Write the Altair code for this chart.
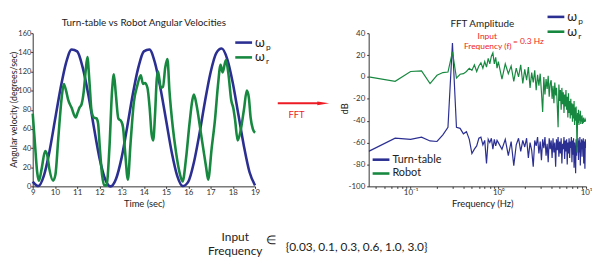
import altair as alt
import pandas as pd

# ---------------- data ----------------
TIME_P = [9.0, 9.25, 9.5, 9.75, 10.0, 10.25, 10.5, 10.75, 11.0, 11.25, 11.5, 11.75,
          12.0, 12.25, 12.5, 12.75, 13.0, 13.25, 13.5, 13.75, 14.0, 14.25, 14.5, 14.75,
          15.0, 15.25, 15.5, 15.75, 16.0, 16.25, 16.5, 16.75, 17.0, 17.25, 17.5, 17.75,
          18.0, 18.25, 18.5, 18.75, 19.0]
OMEGA_P = [5, 0.3, 11, 36, 69, 102, 129, 143, 141, 124, 96, 62,
           30, 8, 0, 8, 30, 62, 96, 124, 141, 143, 129, 102,
           69, 36, 11, 0.3, 5, 25, 55, 89, 119, 139, 144, 133,
           108, 75, 42, 15, 1]

TIME_R = [9.0, 9.1, 9.2, 9.28, 9.4, 9.56, 9.65, 9.75, 9.92, 10.02, 10.15, 10.3, 10.4,
          10.5, 10.6, 10.75, 10.93, 11.02, 11.1, 11.2, 11.3, 11.38, 11.46, 11.55, 11.65,
          11.75, 11.87, 11.94, 12.02, 12.12, 12.22, 12.32, 12.45, 12.57, 12.65, 12.74,
          12.85, 12.98, 13.06, 13.16, 13.28, 13.4, 13.55, 13.7, 13.86, 13.96, 14.05, 14.16,
          14.26, 14.35, 14.42, 14.5, 14.58, 14.64, 14.76, 14.86, 14.96, 15.06, 15.15, 15.3,
          15.45, 15.6, 15.74, 15.9, 16.05, 16.18, 16.25, 16.36, 16.55, 16.7, 16.8, 16.89,
          17.05, 17.2, 17.33, 17.45, 17.54, 17.69, 17.8, 17.93, 18.02, 18.1, 18.22, 18.35,
          18.5, 18.63, 18.72, 18.8, 18.9, 19.0]
OMEGA_R = [76, 45, 15, 6, 18, 37, 33, 18, 6, 12, 50, 92, 107,
           100, 90, 82, 72, 77, 82, 86, 100, 120, 135, 110, 78,
           72, 71, 66, 40, 12, 1, 1, 40, 100, 117, 96,
           71, 68, 62, 35, 7, 45, 88, 105, 116, 107, 108, 103,
           82, 54, 48, 74, 112, 120, 103, 104, 124, 133, 100, 62,
           35, 15, 5, 30, 65, 90, 96, 86, 58, 35, 20, 7,
           40, 70, 105, 127, 119, 132, 118, 90, 82, 70, 48, 58,
           80, 100, 93, 72, 60, 56]

FREQ_LOW = [0.0333, 0.0667, 0.1, 0.1333, 0.1667, 0.2, 0.2333, 0.2667, 0.3, 0.3333,
            0.3667, 0.4, 0.4333, 0.4667, 0.5, 0.5333, 0.5667, 0.6, 0.6333, 0.6667,
            0.7, 0.7333, 0.7667, 0.8, 0.8333, 0.8667, 0.9, 0.9333, 0.9667]
FREQ_HIGH = [round(1.0 + 0.1 * i, 1) for i in range(91)]  # 1.0 ... 10.0 Hz grid

DB_TURNTABLE_LOW = [-68, -56, -57, -55, -58.5, -59, -53, -46, 31, -46,
                    -47, -52, -50, -57, -70, -66, -63, -56, -55, -62,
                    -58, -79, -57, -60, -56, -66, -57, -63, -58]
DB_TURNTABLE_HIGH = [-60, -66, -57, -72, -59, -81, -62, -56, -68, -58,
                     -64, -56, -74, -60, -67, -82, -58, -63, -55, -70,
                     -59, -76, -57, -65, -55, -72, -61, -78, -56, -66,
                     -58, -74, -56, -69, -60, -82, -57, -67, -55, -73,
                     -59, -70, -56, -79, -61, -66, -55, -75, -58, -68,
                     -57, -80, -60, -70, -56, -74, -59, -65, -55, -78,
                     -58, -71, -56, -83, -60, -67, -88, -57, -72, -59,
                     -64, -56, -76, -58, -69, -55, -81, -60, -66, -57,
                     -73, -58, -63, -56, -79, -59, -68, -84, -57, -65, -60]
DB_ROBOT_LOW = [0, -4, 5, 5.5, -6, 1.5, 4, 4.5, 23, -1,
                2.5, 3, 5, 8, 6, 11, 5, 10, 13, 8,
                14, 9, 17, 12, 19, 22, 12, 18, 8]
DB_ROBOT_HIGH = [14, -2, 12, 3, 10, -4, 8, 0, 11, -6,
                 7, -3, 9, -10, 4, -5, 6, -12, 2, -8,
                 3, -14, -32, 0, -16, -2, -11, 1, -18, -6,
                 -3, -20, -8, -24, -5, -17, -10, -27, -46, -7,
                 -22, -12, -30, -10, -25, -14, -33, -16, -27, -12,
                 -30, -18, -37, -15, -33, -22, -38, -20, -35, -24,
                 -41, -25, -38, -22, -44, -28, -40, -27, -45, -69,
                 -33, -42, -30, -44, -34, -40, -31, -43, -36, -41,
                 -35, -43, -38, -42, -37, -41, -39, -41, -39, -40, -40]

INPUT_FREQS = [0.03, 0.1, 0.3, 0.6, 1.0, 3.0]
LEFT_XTICKS = [9, 10, 11, 12, 13, 14, 15, 16, 17, 18, 19]
LEFT_YTICKS = [0, 20, 40, 60, 80, 100, 120, 140, 160]
RIGHT_YTICKS = [-100, -80, -60, -40, -20, 0, 20, 40]
FREQ_TICKS = [0.04, 0.05, 0.06, 0.07, 0.08, 0.09, 0.1, 0.2, 0.3, 0.4, 0.5, 0.6, 0.7,
              0.8, 0.9, 1, 2, 3, 4, 5, 6, 7, 8, 9, 10]

# ---------------- style ----------------
BLUE = "#2b2f92"
GREEN = "#17883f"
RED = "#ed1c24"
INK = "#222222"
FONT = "Lato"
W1, H1 = 225, 155
W2, H2 = 220, 155


def label(text, x, y, size, color=INK, align="left", baseline="middle"):
    return alt.Chart(pd.DataFrame({"label": [text]})).mark_text(
        align=align, baseline=baseline, fontSize=size, font=FONT, color=color
    ).encode(x=alt.value(x), y=alt.value(y), text="label:N")


def hline(x1, x2, y, color, width):
    return alt.Chart(pd.DataFrame({"k": [0]})).mark_rule(
        color=color, strokeWidth=width
    ).encode(x=alt.value(x1), x2=alt.value(x2), y=alt.value(y))


def omega_entry(x, y, sub, color, width):
    return [hline(x, x + 17, y, color, width),
            label("ω", x + 20, y, 13),
            label(sub, x + 31, y + 4, 8.5)]


# tickCount high so that Vega keeps every explicit tick value
AX = dict(labelOverlap=False, labelFlush=False, labelBound=False, tickCount=100)

# ---------------- left panel ----------------
left_p = pd.DataFrame({"t": TIME_P, "v": OMEGA_P})
left_r = pd.DataFrame({"t": TIME_R, "v": OMEGA_R})

xL = alt.X("t:Q", scale=alt.Scale(domain=[9, 19], nice=False, zero=False),
           axis=alt.Axis(values=LEFT_XTICKS, format="d", title="Time (sec)", titleX=112.5,
                         titleY=17.5, titleBaseline="middle", labelPadding=0, **AX))
yL = alt.Y("v:Q", scale=alt.Scale(domain=[0, 160], nice=False),
           axis=alt.Axis(values=LEFT_YTICKS, format="d", title="Angular velocity (degrees/sec)",
                         titleX=-19.5, titleY=77, titleBaseline="middle", titleFontSize=9,
                         labelPadding=0, labelFontSize=7.5, **AX))

line_p = alt.Chart(left_p).mark_line(color=BLUE, strokeWidth=2.6, interpolate="monotone").encode(x=xL, y=yL)
line_r = alt.Chart(left_r).mark_line(color=GREEN, strokeWidth=2.6, interpolate="monotone").encode(x="t:Q", y="v:Q")

arrow_head = alt.Chart(pd.DataFrame({"k": [0]})).mark_point(
    shape="M-1,-0.3L1,0L-1,0.3Z", filled=True, color=RED, opacity=1, size=144
).encode(x=alt.value(294), y=alt.value(71))

set_text = "{" + ", ".join(str(v) for v in INPUT_FREQS) + "}"

left_layers = [
    hline(-24, -23.9, -23, "white", 0.01),  # fixes the figure's top-left corner
    line_p, line_r,
    label("Turn-table vs Robot Angular Velocities", 112.5, -10, 10, align="center"),
    *omega_entry(205, 9.5, "p", BLUE, 2.6),
    *omega_entry(205, 24.5, "r", GREEN, 2.6),
    hline(248, 290, 71, RED, 2),
    arrow_head,
    label("FFT", 267, 83, 9.5, RED, align="center"),
    label("Input", 205, 206, 12, align="center"),
    label("Frequency", 205, 220, 12, align="center"),
    label("∈", 241, 209, 12, align="center"),
    label(set_text, 256, 216, 12),
]
left = alt.layer(*left_layers).properties(width=W1, height=H1)

# ---------------- right panel ----------------
fft_p = pd.DataFrame({"f": FREQ_LOW + FREQ_HIGH, "db": DB_TURNTABLE_LOW + DB_TURNTABLE_HIGH})
fft_r = pd.DataFrame({"f": FREQ_LOW + FREQ_HIGH, "db": DB_ROBOT_LOW + DB_ROBOT_HIGH})

label_expr = ("datum.value == 0.1 ? '10⁻¹' : datum.value == 1 ? '10⁰' : "
              "datum.value == 10 ? '10¹' : ''")
xR = alt.X("f:Q", scale=alt.Scale(type="log", domain=[0.0333, 10], nice=False),
           axis=alt.Axis(values=FREQ_TICKS, labelExpr=label_expr, title="Frequency (Hz)",
                         titleX=115, titleY=17.5, titleBaseline="middle", labelPadding=0, **AX))
yR = alt.Y("db:Q", scale=alt.Scale(domain=[-100, 40], nice=False),
           axis=alt.Axis(values=RIGHT_YTICKS, title="dB", titleX=-24, titleY=76,
                         titleBaseline="middle", labelPadding=2,
                         labelExpr="'' + datum.value", **AX))

fft_line_p = alt.Chart(fft_p).mark_line(color=BLUE, strokeWidth=1.2, clip=True).encode(x=xR, y=yR)
fft_line_r = alt.Chart(fft_r).mark_line(color=GREEN, strokeWidth=1.2, clip=True).encode(x="f:Q", y="db:Q")

right_layers = [
    fft_line_p, fft_line_r,
    label("FFT Amplitude", 115, -9, 10, align="center"),
    *omega_entry(181, -16.5, "p", BLUE, 2.6),
    *omega_entry(181, -1.5, "r", GREEN, 2.6),
    hline(4, 21, 128, BLUE, 2.6),
    label("Turn-table", 24, 128, 11),
    hline(4, 21, 142, GREEN, 2.6),
    label("Robot", 24, 142, 11),
    label("Input", 120, 3, 8.5, RED, align="center"),
    label("Frequency (f)", 120.5, 13, 8.5, RED, align="center"),
    label("= 0.3 Hz", 146, 8, 8.5, RED),
]
right = alt.layer(*right_layers).properties(width=W2, height=H2)

chart = alt.hconcat(left, right, spacing=115, bounds="flush").properties(
    padding=0
).configure_view(stroke=None).configure_axis(
    grid=False, domainColor="#333", tickColor="#333", tickSize=2, labelColor="#333",
    labelFont=FONT, labelFontSize=8, titleFont=FONT, titleFontSize=9.5, titleColor=INK,
    titleFontWeight="normal",
)

chart.save("out.html", embed_options={"renderer": "svg", "actions": False})
